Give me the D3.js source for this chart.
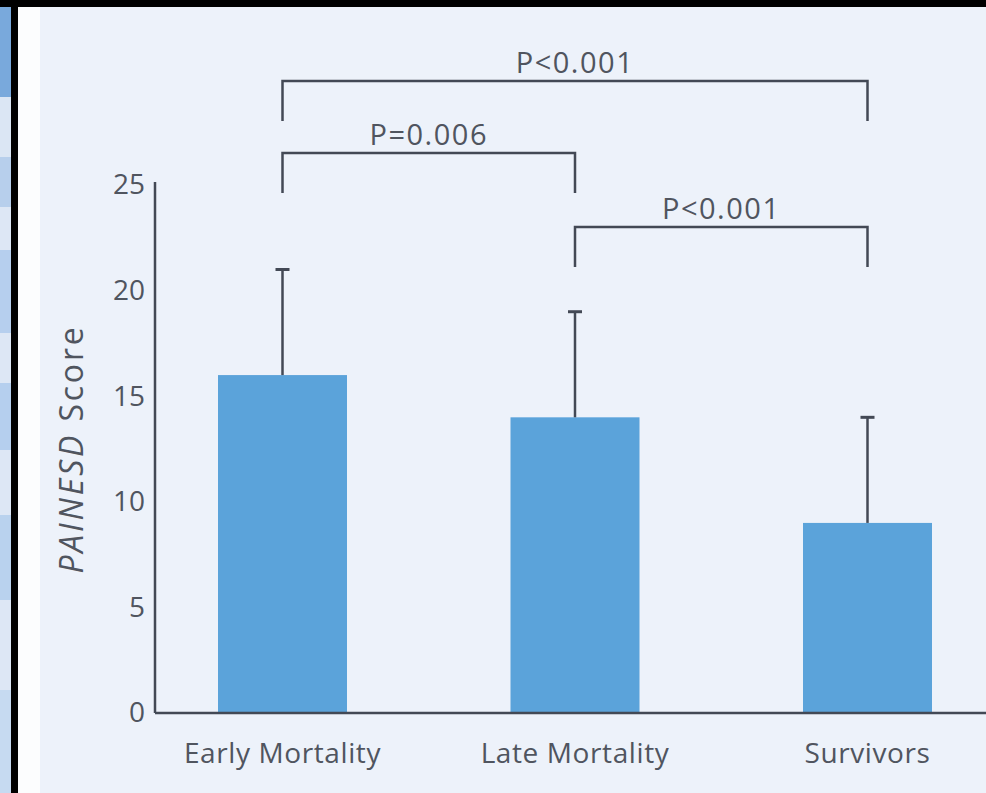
<!DOCTYPE html>
<html>
<head>
<meta charset="utf-8">
<script src="https://cdn.jsdelivr.net/npm/d3@7"></script>
<style>
  html, body { margin: 0; padding: 0; background: #000; }
  svg { display: block; }
  text { font-family: "Open Sans", "Noto Sans", sans-serif; fill: #50555f; }
</style>
</head>
<body>
<div id="chart"></div>
<script>
// data
const categories = ["Early Mortality", "Late Mortality", "Survivors"];
const means = [16, 14, 9];
const errorTops = [21, 19, 14];
const yTicks = [0, 5, 10, 15, 20, 25];
const comparisons = [[0, 2], [0, 1], [1, 2]];
const pLabels = ["P<0.001", "P=0.006", "P<0.001"];

const width = 986, height = 793;
const ink = "#434955";

const svg = d3.select("#chart").append("svg")
  .attr("width", width)
  .attr("height", height);

// page frame: black edges, bluish strip on the left, light panel
svg.append("rect").attr("width", width).attr("height", height).attr("fill", "#000");
const strip = [[7, 97, "#79a9dc"], [97, 157, "#dbe6f4"], [157, 207, "#b7cfec"], [207, 250, "#dde7f5"],
  [250, 333, "#b6cfee"], [333, 383, "#dde7f5"], [383, 450, "#b5cfee"], [450, 515, "#dde7f5"],
  [515, 600, "#b9d2ee"], [600, 690, "#dde7f5"], [690, 793, "#c6daf1"]];
svg.selectAll("rect.strip").data(strip).enter().append("rect")
  .attr("class", "strip")
  .attr("x", 0).attr("width", 11)
  .attr("y", d => d[0]).attr("height", d => d[1] - d[0])
  .attr("fill", d => d[2]);
svg.append("rect").attr("x", 18).attr("y", 7).attr("width", 22).attr("height", height - 7).attr("fill", "#fcfdfe");
svg.append("rect").attr("x", 40).attr("y", 7).attr("width", width - 40).attr("height", height - 7).attr("fill", "#edf2fa");

const axisX = 155, baseY = 713;

const y = d3.scaleLinear().domain([0, 25]).range([baseY, 185]);
const x = d3.scaleBand()
  .domain(categories)
  .range([136.25, 1013.75])
  .paddingInner(0.559)
  .paddingOuter(0.2795);
const cx = i => x(categories[i]) + x.bandwidth() / 2;

// bars
svg.selectAll("rect.bar").data(means).enter().append("rect")
  .attr("class", "bar")
  .attr("x", (d, i) => x(categories[i]))
  .attr("width", x.bandwidth())
  .attr("y", d => y(d))
  .attr("height", d => baseY - y(d))
  .attr("fill", "#5ba3da");

// error bars (upper only)
const err = svg.selectAll("g.err").data(errorTops).enter().append("g").attr("class", "err");
err.append("line")
  .attr("x1", (d, i) => cx(i)).attr("x2", (d, i) => cx(i))
  .attr("y1", (d, i) => y(means[i])).attr("y2", d => y(d))
  .attr("stroke", ink).attr("stroke-width", 2.5);
err.append("line")
  .attr("x1", (d, i) => cx(i) - 7).attr("x2", (d, i) => cx(i) + 7)
  .attr("y1", d => y(d)).attr("y2", d => y(d))
  .attr("stroke", ink).attr("stroke-width", 3);

// y axis
const yAxis = d3.axisLeft(y).tickValues(yTicks).tickSize(0).tickPadding(10).tickSizeOuter(0);
const gy = svg.append("g").attr("transform", "translate(" + axisX + ",0)").call(yAxis);
gy.select(".domain").attr("stroke", ink).attr("stroke-width", 2.5).attr("d", "M0," + (y(25) - 3) + "V" + baseY);
gy.selectAll(".tick text").attr("font-size", 28).attr("fill", "#50555f")
  .attr("font-family", null);

// x axis line + labels
svg.append("line")
  .attr("x1", axisX).attr("x2", width)
  .attr("y1", baseY).attr("y2", baseY)
  .attr("stroke", ink).attr("stroke-width", 2.5);
const xAxis = d3.axisBottom(x).tickSize(0).tickPadding(30);
const gx = svg.append("g").attr("transform", "translate(0," + baseY + ")").call(xAxis);
gx.select(".domain").remove();
gx.selectAll(".tick text").attr("font-size", 28).attr("letter-spacing", 0.6)
  .attr("fill", "#50555f").attr("font-family", null);

// y axis title
const title = svg.append("text")
  .attr("transform", "translate(83," + ((y(25) + baseY) / 2) + ") rotate(-90)")
  .attr("text-anchor", "middle")
  .attr("font-size", 32)
  .attr("letter-spacing", 2.8);
title.append("tspan").attr("font-style", "italic").text("PAINESD");
title.append("tspan").text(" Score");

// significance brackets
const bracketTop = [81, 153, 227];
const legLen = 40;
comparisons.forEach((c, k) => {
  const x1 = cx(c[0]), x2 = cx(c[1]), yy = bracketTop[k];
  svg.append("path")
    .attr("d", "M" + x1 + "," + (yy + legLen) + "V" + yy + "H" + x2 + "V" + (yy + legLen))
    .attr("fill", "none").attr("stroke", ink).attr("stroke-width", 2.5);
  svg.append("text")
    .attr("x", (x1 + x2) / 2).attr("y", yy - 8)
    .attr("text-anchor", "middle")
    .attr("font-size", 29)
    .attr("letter-spacing", 1.5)
    .text(pLabels[k]);
});
</script>
</body>
</html>
